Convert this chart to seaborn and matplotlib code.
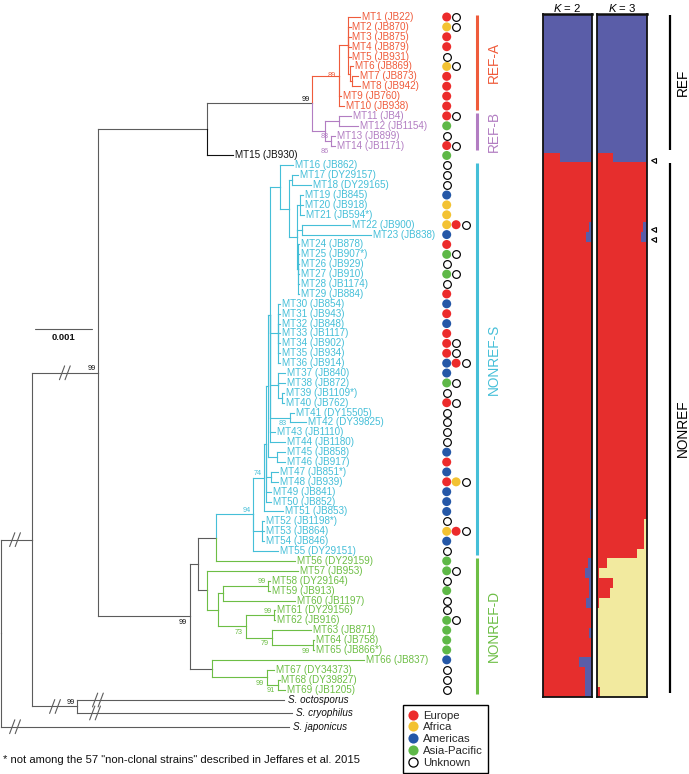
import numpy as np
import pandas as pd
import matplotlib
matplotlib.use("Agg")
import matplotlib.pyplot as plt
import seaborn as sns
from matplotlib.lines import Line2D
from matplotlib.collections import LineCollection

sns.set_theme(style="white")
plt.rcParams["font.family"] = ["Liberation Sans", "DejaVu Sans"]
plt.rcParams["mathtext.fontset"] = "custom"
plt.rcParams["mathtext.it"] = "Liberation Sans:italic"
plt.rcParams["mathtext.rm"] = "Liberation Sans"

# ======================= DATA =======================
mt_strains = ["JB22", "JB870", "JB875", "JB879", "JB931", "JB869", "JB873", "JB942", "JB760", "JB938",
              "JB4", "JB1154", "JB899", "JB1171", "JB930", "JB862", "DY29157", "DY29165", "JB845", "JB918",
              "JB594*", "JB900", "JB838", "JB878", "JB907*", "JB929", "JB910", "JB1174", "JB884", "JB854",
              "JB943", "JB848", "JB1117", "JB902", "JB934", "JB914", "JB840", "JB872", "JB1109*", "JB762",
              "DY15505", "DY39825", "JB1110", "JB1180", "JB858", "JB917", "JB851*", "JB939", "JB841", "JB852",
              "JB853", "JB1198*", "JB864", "JB846", "DY29151", "DY29159", "JB953", "DY29164", "JB913", "JB1197",
              "DY29156", "JB916", "JB871", "JB758", "JB866*", "JB837", "DY34373", "DY39827", "JB1205"]

# tip depth, in 1e-3 substitutions/site
mt_depths = [6.298, 6.132, 6.132, 6.132, 6.132, 6.175, 6.263, 6.298, 5.965, 6.018,
             6.140, 6.263, 5.860, 5.860, 4.070, 5.123, 5.211, 5.439, 5.298, 5.298,
             5.316, 6.123, 6.500, 5.228, 5.228, 5.228, 5.228, 5.228, 5.228, 4.895,
             4.895, 4.895, 4.895, 4.895, 4.895, 4.895, 4.982, 4.982, 4.965, 4.965,
             5.140, 5.351, 4.807, 4.982, 4.982, 4.982, 4.860, 4.860, 4.737, 4.737,
             4.947, 4.614, 4.614, 4.614, 4.860, 5.158, 5.211, 4.719, 4.719, 5.158,
             4.807, 4.807, 5.439, 5.500, 5.500, 6.368, 4.789, 4.886, 4.982]

mt_parents = ["n_R1"] * 5 + ["n_R2", "n_R3", "n_R3", "n_refA", "n_refA",
              "n_B1", "n_B1", "n_B3", "n_B4", "n_refmt15", "n_A", "n_C", "n_C",
              "n_E", "n_E", "n_E", "n_F", "n_F"] + ["n_G"] * 6 + ["n_I"] * 7 + \
             ["n_J", "n_J", "n_K", "n_K", "n_L", "n_L", "n_H", "n_H", "n_4546", "n_4546",
              "n_4748", "n_4748", "n_Y", "n_Y", "n_74", "n_N", "n_N", "n_N", "n_94",
              "n_O", "n_Q", "n_5859", "n_5859", "n_S", "n_6162", "n_6162", "n_U",
              "n_6465", "n_6465", "n_V", "n_W", "n_X", "n_X"]

outgroup_labels = ["S. octosporus", "S. cryophilus", "S. japonicus"]
outgroup_rows = [69.06, 70.37, 71.76]
outgroup_depths = [4.965, 5.105, 5.053]
outgroup_parents = ["n_oct", "n_oct", "root"]

node_names = ["root", "n_out1", "n_oct", "n_in", "n_refmt15", "n_ref", "n_refA", "n_R1", "n_R2", "n_R3",
              "n_B0", "n_B1", "n_B3", "n_B4", "n_nonref", "n_P", "n_O", "n_94", "n_74", "n_N",
              "n_Y", "n_Z", "n_4748", "n_H", "n_4546", "n_A", "n_B", "n_C", "n_D", "n_E",
              "n_F", "n_G", "n_I", "n_J", "n_K", "n_L", "n_Q", "n_R", "n_S", "n_5859",
              "n_T", "n_6162", "n_U", "n_6465", "n_V", "n_W", "n_X"]
node_parents = [None, "root", "n_out1", "n_out1", "n_in", "n_refmt15", "n_ref", "n_refA", "n_R1", "n_R2",
                "n_ref", "n_B0", "n_B0", "n_B3", "n_in", "n_nonref", "n_P", "n_O", "n_94", "n_94",
                "n_74", "n_Y", "n_Y", "n_Z", "n_Z", "n_H", "n_A", "n_B", "n_B", "n_D",
                "n_D", "n_D", "n_H", "n_H", "n_J", "n_H", "n_P", "n_Q", "n_R", "n_S",
                "n_R", "n_T", "n_T", "n_U", "n_nonref", "n_V", "n_W"]
node_depths = [0.0, 0.544, 1.333, 1.702, 3.614, 5.451, 5.930, 6.088, 6.123, 6.158,
               5.684, 5.930, 5.789, 5.807, 3.316, 3.456, 3.767, 4.416, 4.619, 4.574,
               4.649, 4.684, 4.737, 4.719, 4.842, 4.895, 5.053, 5.100, 5.188, 5.246,
               5.275, 5.205, 4.860, 4.860, 4.925, 5.070, 3.609, 3.812, 3.889, 4.689,
               4.298, 4.789, 4.749, 5.479, 3.696, 4.672, 4.865]
node_groups = ["bb", "bb", "bb", "bb", "bb", "bb", "A", "A", "A", "A",
               "B", "B", "B", "B", "bb", "bb", "bb", "S", "S", "S",
               "S", "S", "S", "S", "S", "S", "S", "S", "S", "S",
               "S", "S", "S", "S", "S", "S", "bb", "D", "D", "D",
               "D", "D", "D", "D", "bb", "D", "D"]

support_nodes = ["n_in", "n_oct", "n_ref", "n_refA", "n_B3", "n_B4", "n_nonref", "n_94", "n_74", "n_L",
                 "n_5859", "n_6162", "n_T", "n_U", "n_6465", "n_W", "n_X"]
support_values = [99, 99, 99, 89, 83, 86, 99, 94, 74, 83, 99, 99, 73, 79, 99, 99, 91]
support_side = ["above", "above", "above", "mid", "above", "below", "below", "above", "above", "below",
                "above", "above", "below", "below", "below", "below", "below"]

break_branches = ["n_out1", "S. japonicus", "n_in", "n_oct", "S. octosporus", "S. cryophilus"]
break_depths = [0.246, 0.246, 1.12, 0.947, 1.70, 1.65]

clade_names = ["REF-A", "REF-B", "NONREF-S", "NONREF-D"]
clade_keys = ["A", "B", "S", "D"]
clade_first = [1, 11, 16, 56]
clade_last = [10, 14, 55, 69]

pop_names = ["REF", "NONREF"]
pop_first = [1, 16]
pop_last = [14, 69]

# geographic origin codes per strain: E Europe, A Africa, M Americas, P Asia-Pacific, U Unknown
origins = ["EU", "AU", "E", "E", "U", "AU", "E", "E", "E", "E",
           "EU", "P", "U", "EU", "P", "U", "U", "U", "M", "A",
           "A", "AEU", "M", "E", "PU", "U", "PU", "U", "E", "M",
           "E", "M", "E", "EU", "EU", "MEU", "M", "PU", "U", "EU",
           "U", "U", "U", "U", "M", "E", "M", "EAU", "M", "M",
           "M", "U", "AEU", "M", "U", "P", "PU", "U", "P", "U",
           "U", "PU", "P", "P", "P", "M", "U", "U", "U"]
region_codes = ["E", "A", "M", "P", "U"]
region_names = ["Europe", "Africa", "Americas", "Asia-Pacific", "Unknown"]

# admixture proportions (STRUCTURE), one value per MT strain
k2_blue = [1.0] * 14 + [0.65] + [0.0] * 6 + [0.06, 0.12] + [0.0] * 27 + [0.04] + [0.0] * 4 + \
          [0.08, 0.14, 0.06, 0.06, 0.12, 0.03, 0.03, 0.06, 0.02, 0.02, 0.27, 0.14, 0.14, 0.14]
k3_red = [0.0] * 14 + [0.32] + [1.0] * 6 + [0.92, 0.88] + [1.0] * 28 + [0.95, 0.95, 0.95, 0.80] + \
         [0.20, 0.03, 0.32, 0.25, 0.03] + [0.0] * 8 + [0.05]
k3_yellow = [0.0] * 51 + [0.05, 0.05, 0.05, 0.20] + [0.80, 0.97, 0.68, 0.75, 0.97] + [1.0] * 8 + [0.95]
flagged_strains = [15, 22, 23]

# ======================= STYLE =======================
W_PX, H_PX = 689, 774
group_colors = {"bb": "#5c5c5c", "K": "#111111", "A": "#EF5B3B", "B": "#B27DC2",
                "S": "#45BFD8", "D": "#6DBE45"}
region_colors = {"Europe": "#EC2B2B", "Africa": "#F3C232", "Americas": "#2457A7",
                 "Asia-Pacific": "#5EB847", "Unknown": "white"}
struct_red, struct_blue, struct_yellow = "#E62E2D", "#5A5DA8", "#F2EA9F"

ROW0_PX, ROW_PX = 17.0, 9.89
row_lim = ((H_PX - ROW0_PX) / ROW_PX, (0 - ROW0_PX) / ROW_PX)
PX_PER_UNIT = 57.0          # pixels per 1e-3 subst./site
tree_xlim = (-1.0 / PX_PER_UNIT, (W_PX - 1.0) / PX_PER_UNIT)


def to_px(d):
    return (d - tree_xlim[0]) / (tree_xlim[1] - tree_xlim[0]) * W_PX


fig = plt.figure(figsize=(W_PX / 100, H_PX / 100), dpi=100)
ax_tree = fig.add_axes([0, 0, 1, 1])
ax_ann = fig.add_axes([0, 0, 1, 1])
for a in (ax_tree, ax_ann):
    a.set_ylim(*row_lim)
    a.axis("off")
    a.patch.set_alpha(0)
ax_tree.set_xlim(*tree_xlim)
ax_ann.set_xlim(0, W_PX)

# ---------------- tree ----------------
n_mt = len(mt_strains)
mt_labels = [f"MT{i + 1} ({s})" for i, s in enumerate(mt_strains)]
mt_groups = []
for i in range(1, n_mt + 1):
    g = "K"
    for key, f, l in zip(clade_keys, clade_first, clade_last):
        if f <= i <= l:
            g = key
    mt_groups.append(g)

depth, parent, group, ypos = {}, {}, {}, {}
for n, p, d, g in zip(node_names, node_parents, node_depths, node_groups):
    depth[n], parent[n], group[n] = d, p, g
for i, lab in enumerate(mt_labels):
    depth[lab], parent[lab], group[lab], ypos[lab] = mt_depths[i], mt_parents[i], mt_groups[i], i
for lab, r, d, p in zip(outgroup_labels, outgroup_rows, outgroup_depths, outgroup_parents):
    depth[lab], parent[lab], group[lab], ypos[lab] = d, p, "bb", r

children = {}
for c, p in parent.items():
    if p is not None:
        children.setdefault(p, []).append(c)


def get_y(n):
    if n not in ypos:
        ys = [get_y(c) for c in children[n]]
        ypos[n] = (min(ys) + max(ys)) / 2
    return ypos[n]


get_y("root")

segs, cols = [], []
for c, p in parent.items():
    if p is None:
        continue
    col = group_colors[group[c]]
    segs.append([(depth[p], ypos[p]), (depth[p], ypos[c])])
    cols.append(col)
    segs.append([(depth[p], ypos[c]), (depth[c], ypos[c])])
    cols.append(col)
ax_tree.add_collection(LineCollection(segs, colors=cols, linewidths=0.8, capstyle="projecting"))

# tip labels
for i, lab in enumerate(mt_labels):
    ax_tree.annotate(lab, xy=(depth[lab], ypos[lab]), xytext=(1.4, 0), textcoords="offset points",
                     ha="left", va="center", fontsize=7.1, color=group_colors[mt_groups[i]])
for lab in outgroup_labels:
    ax_tree.annotate(lab, xy=(depth[lab], ypos[lab]), xytext=(3, 0), textcoords="offset points",
                     ha="left", va="center", fontsize=7.1, style="italic", color="#111111")

# support values
for n, v, side in zip(support_nodes, support_values, support_side):
    if group[n] == "bb":
        col = "#111111"
    else:
        col = group_colors[group[n]]
    if side == "above":
        off, va = (-1.6, 0.3), "bottom"
    elif side == "below":
        off, va = (-2.4, -2.0), "top"
    else:
        off, va = (-2.4, 0), "center"
    ax_tree.annotate(str(v), xy=(depth[n], ypos[n]), xytext=off, textcoords="offset points",
                     ha="right", va=va, fontsize=5.2, color=col)

# branch breaks "//"
for b, d in zip(break_branches, break_depths):
    xc, yc = to_px(d), ypos[b]
    for dx in (-2.8, 2.8):
        ax_ann.plot([xc + dx - 2.6, xc + dx + 2.6], [yc + 0.7, yc - 0.7], color="#5c5c5c", lw=0.8)

# scale bar
sb_row = 31.58
sb_start = 0.596
ax_tree.plot([sb_start, sb_start + 1.0], [sb_row, sb_row], color="#5c5c5c", lw=0.8)
ax_tree.text(sb_start + 0.5, sb_row + 0.8, "0.001", ha="center", va="center", fontsize=6.8,
             fontweight="bold", color="#111111")

# ---------------- origin dots ----------------
dot_col_px = [446.7, 456.1, 465.5]
rows_, xs_, regs_ = [], [], []
for i, code in enumerate(origins):
    for k, ch in enumerate(code):
        rows_.append(i)
        xs_.append(dot_col_px[k])
        regs_.append(region_names[region_codes.index(ch)])
dots = pd.DataFrame({"row": rows_, "x": xs_, "region": regs_})
known = dots[dots.region != "Unknown"]
unknown = dots[dots.region == "Unknown"]
sns.scatterplot(data=known, x="x", y="row", hue="region", palette=region_colors, s=42,
                edgecolor="none", linewidth=0, legend=False, ax=ax_ann, zorder=3)
sns.scatterplot(data=unknown, x="x", y="row", color="white", s=31, edgecolor="black",
                linewidth=0.85, legend=False, ax=ax_ann, zorder=3)
ax_ann.set_xlim(0, W_PX)
ax_ann.set_ylim(*row_lim)
ax_ann.axis("off")

# ---------------- clade bars ----------------
for name, key, f, l in zip(clade_names, clade_keys, clade_first, clade_last):
    col = group_colors[key]
    ax_ann.plot([477, 477], [f - 1 - 0.25, l - 1 + 0.42], color=col, lw=2.2, solid_capstyle="butt")
    ax_ann.text(494, (f + l) / 2 - 1 + 0.1, name, rotation=90, ha="center", va="center",
                fontsize=9.8, color=col)

for name, f, l in zip(pop_names, pop_first, pop_last):
    ax_ann.plot([670, 670], [f - 1 - 0.2, l - 1 + 0.4], color="black", lw=1.6, solid_capstyle="butt")
    ax_ann.text(683, (f + l) / 2 - 1 + 0.1, name, rotation=90, ha="center", va="center",
                fontsize=9.8, color="black")

# ---------------- legend ----------------
handles = []
for rn in region_names:
    if rn == "Unknown":
        handles.append(Line2D([], [], marker="o", ls="", markersize=6.6, markerfacecolor="white",
                              markeredgecolor="black", markeredgewidth=0.9))
    else:
        handles.append(Line2D([], [], marker="o", ls="", markersize=7.3, markerfacecolor=region_colors[rn],
                              markeredgecolor="none"))
leg = ax_ann.legend(handles, region_names, loc="lower left", bbox_to_anchor=(403 / W_PX, 1.0 / H_PX),
                    bbox_transform=fig.transFigure, frameon=True, fancybox=False, framealpha=1,
                    edgecolor="black", fontsize=8.2, handlelength=0.8, handletextpad=0.5,
                    borderpad=0.45, labelspacing=0.16, borderaxespad=0)
leg.get_frame().set_linewidth(1.0)

ax_ann.text(3, (760 - ROW0_PX) / ROW_PX, '* not among the 57 "non-clonal strains" described in Jeffares et al. 2015',
            ha="left", va="center", fontsize=8.1, color="#111111")

# ---------------- STRUCTURE panels ----------------
rows = np.arange(n_mt)
k2_blue_a = np.array(k2_blue)
k3_red_a = np.array(k3_red)
k3_yel_a = np.array(k3_yellow)
k3_blue_a = np.clip(1 - k3_red_a - k3_yel_a, 0, 1)

panel_top, panel_bot = 14, 697
ax_k2 = fig.add_axes([543 / W_PX, 1 - panel_bot / H_PX, 49 / W_PX, (panel_bot - panel_top) / H_PX])
ax_k3 = fig.add_axes([597 / W_PX, 1 - panel_bot / H_PX, 50 / W_PX, (panel_bot - panel_top) / H_PX])

bar_kw = dict(height=1.0, linewidth=0, antialiased=False)
ax_k2.barh(rows, 1 - k2_blue_a, left=0, color=struct_red, **bar_kw)
ax_k2.barh(rows, k2_blue_a, left=1 - k2_blue_a, color=struct_blue, **bar_kw)
ax_k3.barh(rows, k3_red_a, left=0, color=struct_red, **bar_kw)
ax_k3.barh(rows, k3_yel_a, left=k3_red_a, color=struct_yellow, **bar_kw)
ax_k3.barh(rows, k3_blue_a, left=k3_red_a + k3_yel_a, color=struct_blue, **bar_kw)

for a, title in ((ax_k2, "$K$ = 2"), (ax_k3, "$K$ = 3")):
    a.set_xlim(0, 1)
    a.set_ylim(n_mt - 0.5, -0.5)
    a.set_xticks([])
    a.set_yticks([])
    for s in a.spines.values():
        s.set_visible(True)
        s.set_color("#111111")
        s.set_linewidth(1.3)
    a.spines["top"].set_linewidth(1.8)
    a.set_title(title, fontsize=8.2, pad=1.5, color="black")

flag_rows = [i - 1 for i in flagged_strains]
ax_k3.plot([1.12] * len(flag_rows), [r + 0.25 for r in flag_rows], ls="", marker="<", markersize=3.6,
           markerfacecolor="white", markeredgecolor="black", markeredgewidth=0.8, clip_on=False)

fig.savefig("out.png", dpi=100)
